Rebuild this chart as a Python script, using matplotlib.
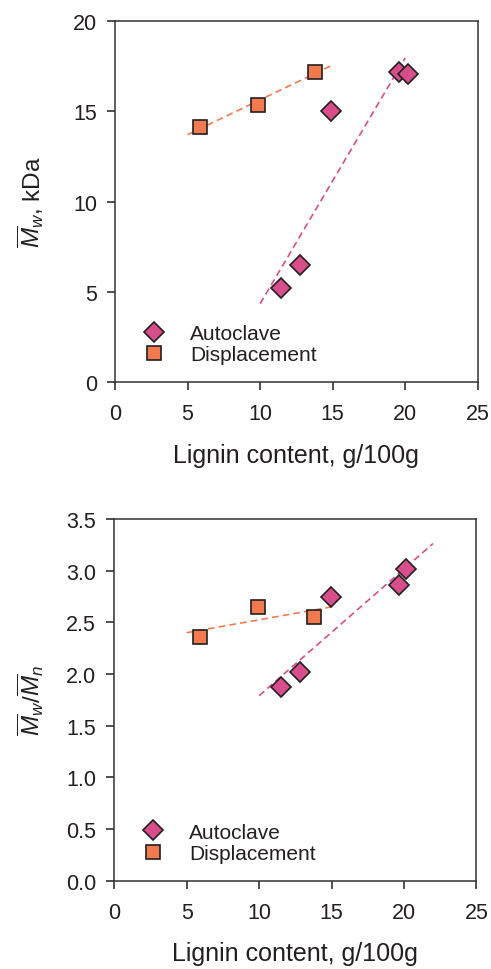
import numpy as np
import matplotlib
matplotlib.use("Agg")
import matplotlib.pyplot as plt

plt.rcParams['font.family'] = ['Liberation Sans', 'DejaVu Sans']
plt.rcParams['mathtext.fontset'] = 'custom'
plt.rcParams['mathtext.rm'] = 'Liberation Sans'
plt.rcParams['mathtext.it'] = 'Liberation Sans:italic'

# data
auto_x_mw = [11.45, 12.76, 14.87, 19.6, 20.17]
auto_mw = [5.22, 6.5, 15.03, 17.19, 17.06]
disp_x_mw = [5.86, 9.84, 13.75]
disp_mw = [14.15, 15.35, 17.2]

auto_x_pdi = [11.52, 12.79, 14.95, 19.68, 20.16]
auto_pdi = [1.87, 2.017, 2.75, 2.865, 3.02]
disp_x_pdi = [5.92, 9.91, 13.82]
disp_pdi = [2.36, 2.65, 2.556]

PINK = '#d84e8a'
ORANGE = '#f27a4e'
EDGE = '#231f20'
TXT = '#231f20'


def panel(ax, ax_x, ay, dx, dy, auto_rng, disp_rng, ylim, yticks, yfmt, ylabel):
    # linear fits as dashed lines
    for xs, ys, rng, c in [(dx, dy, disp_rng, ORANGE), (ax_x, ay, auto_rng, PINK)]:
        k, b = np.polyfit(xs, ys, 1)
        xx = np.array(rng)
        ax.plot(xx, k * xx + b, ls=(0, (4, 2.5)), color=c, lw=1.2, zorder=2)
    ax.plot(ax_x, ay, 'D', ms=10, mfc=PINK, mec=EDGE, mew=1.2, ls='none',
            label='Autoclave', zorder=3)
    ax.plot(dx, dy, 's', ms=10.5, mfc=ORANGE, mec=EDGE, mew=1.2, ls='none',
            label='Displacement', zorder=3)
    ax.set_xlim(0, 25)
    ax.set_ylim(*ylim)
    ax.set_xticks([0, 5, 10, 15, 20, 25])
    ax.set_yticks(yticks)
    ax.set_yticklabels([yfmt.format(v) for v in yticks])
    ax.tick_params(direction='out', length=6, width=1.1, pad=7,
                   labelsize=15.5, colors=TXT)
    ax.tick_params(axis='x', pad=9)
    for s in ax.spines.values():
        s.set_linewidth(1.1)
        s.set_color('#333333')
    ax.set_xlabel('Lignin content, g/100g', fontsize=18, color=TXT)
    ax.xaxis.set_label_coords(0.5, -0.168)
    ax.set_ylabel(ylabel, fontsize=17.5, color=TXT)
    ax.yaxis.set_label_coords(-0.19, 0.5)
    ax.legend(loc='center left', bbox_to_anchor=(0.078, 0.105), frameon=False,
              fontsize=15, handlelength=1.0, handletextpad=1.25,
              labelspacing=0.12, borderpad=0, borderaxespad=0,
              labelcolor=TXT)


fig = plt.figure(figsize=(4.91, 9.70), dpi=100)
ax1 = fig.add_axes([0.2342, 0.6052, 0.739, 0.372])
ax2 = fig.add_axes([0.2328, 0.0910, 0.7375, 0.3729])

panel(ax1, auto_x_mw, auto_mw, disp_x_mw, disp_mw, [10, 20], [5, 15],
      (0, 20), [0, 5, 10, 15, 20], '{:g}', r'$\overline{M}_w$, kDa')
panel(ax2, auto_x_pdi, auto_pdi, disp_x_pdi, disp_pdi, [10, 22], [5, 15],
      (0, 3.5), [0, 0.5, 1.0, 1.5, 2.0, 2.5, 3.0, 3.5], '{:.1f}',
      r'$\overline{M}_w/\overline{M}_n$')

fig.savefig('out.png', dpi=100)
